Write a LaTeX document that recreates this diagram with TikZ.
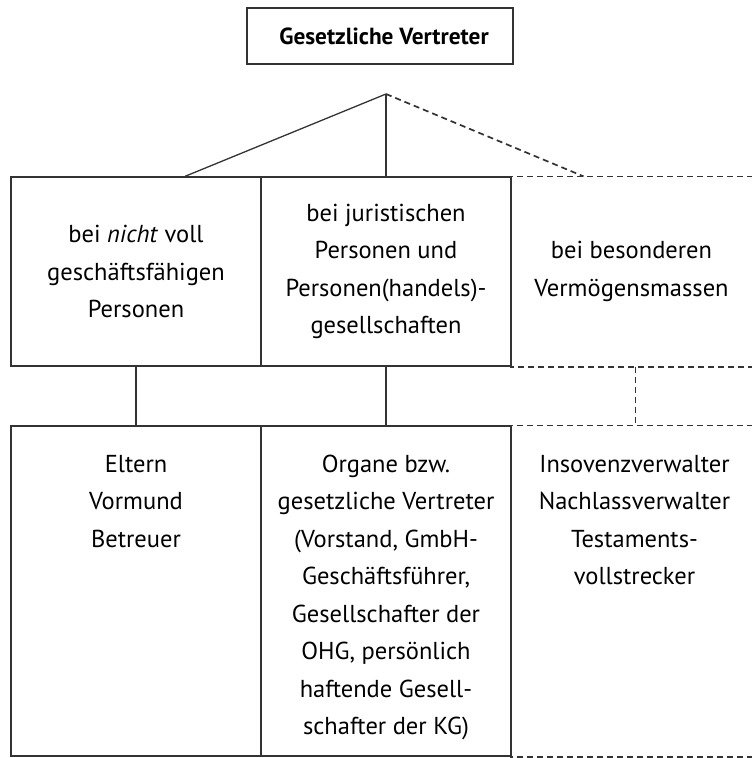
\documentclass[tikz,border=0pt]{standalone}
\usepackage{fontspec}
\setmainfont{PT Sans}
\begin{document}
\begin{tikzpicture}[x=1pt,y=-1pt,
  line width=1.3pt, draw={black!80},
  body/.style={font=\fontsize{24.5}{37.5}\selectfont},
  box/.style={draw, rectangle, inner sep=0pt, minimum width=250pt, align=center, body},
  openbox/.style={rectangle, inner sep=0pt, minimum width=241pt, align=center, body},
  txt/.style={inner sep=0pt, align=center, anchor=north, body},
  dashline/.style={dash pattern=on 6pt off 4pt, line width=1.7pt},
  titlebox/.style={draw, rectangle, minimum width=266pt, minimum height=56pt,
              font=\fontsize{23.3}{28}\selectfont\bfseries}]
\useasboundingbox (0,0) rectangle (752,758);

% heading
\node[titlebox] (title) at (380,36) {\hspace*{8pt}Gesetzliche Vertreter};
\coordinate (apex) at (386,94);

% first row: groups of persons
\node[box, minimum height=189pt] (lt) at (136,271.5)
  {bei \emph{nicht} voll\\geschäftsfähigen\\Personen};
\node[box, minimum height=189pt] (mt) at (386,271.5)
  {bei juristischen\\Personen und\\Personen(handels)-\\gesellschaften};
\node[openbox, minimum height=189pt] (rt) at (631.5,271.5)
  {bei besonderen\\Vermögensmassen};
\draw[dashline] (rt.north east) -- (rt.north west) -- (rt.south west) -- (rt.south east);

% second row: representatives
\node[box, minimum height=330pt] (lb) at (136,591) {};
\node[box, minimum height=330pt] (mb) at (386,591) {};
\node[openbox, minimum height=330pt] (rb) at (631.5,591) {};
\draw[dashline] (rb.north east) -- (rb.north west) -- (rb.south west) -- (rb.south east);

\node[txt] (lbt) at ([yshift=-29pt]lb.north) {Eltern\\Vormund\\Betreuer};
\node[txt] (mbt) at ([yshift=-29pt]mb.north)
  {Organe bzw.\\gesetzliche Vertreter\\(Vorstand, GmbH-\\Geschäftsführer,\\Gesellschafter der\\OHG, persönlich\\haftende Gesell-\\schafter der KG)};
\node[txt] (rbt) at ([yshift=-29pt,xshift=3pt]rb.north)
  {Insovenzverwalter\\Nachlassverwalter\\Testaments-\\vollstrecker};

% branches from the heading
\draw (apex) -- ([xshift=49pt]lt.north);
\draw (apex) -- (mt.north);
\draw[dashline] (apex) -- ([xshift=-48pt]rt.north);

% links between the rows
\draw (lt.south) -- (lb.north);
\draw (mt.south) -- (mb.north);
\draw[dashline] ([xshift=4pt]rt.south) -- ([xshift=4pt]rb.north);
\end{tikzpicture}
\end{document}
